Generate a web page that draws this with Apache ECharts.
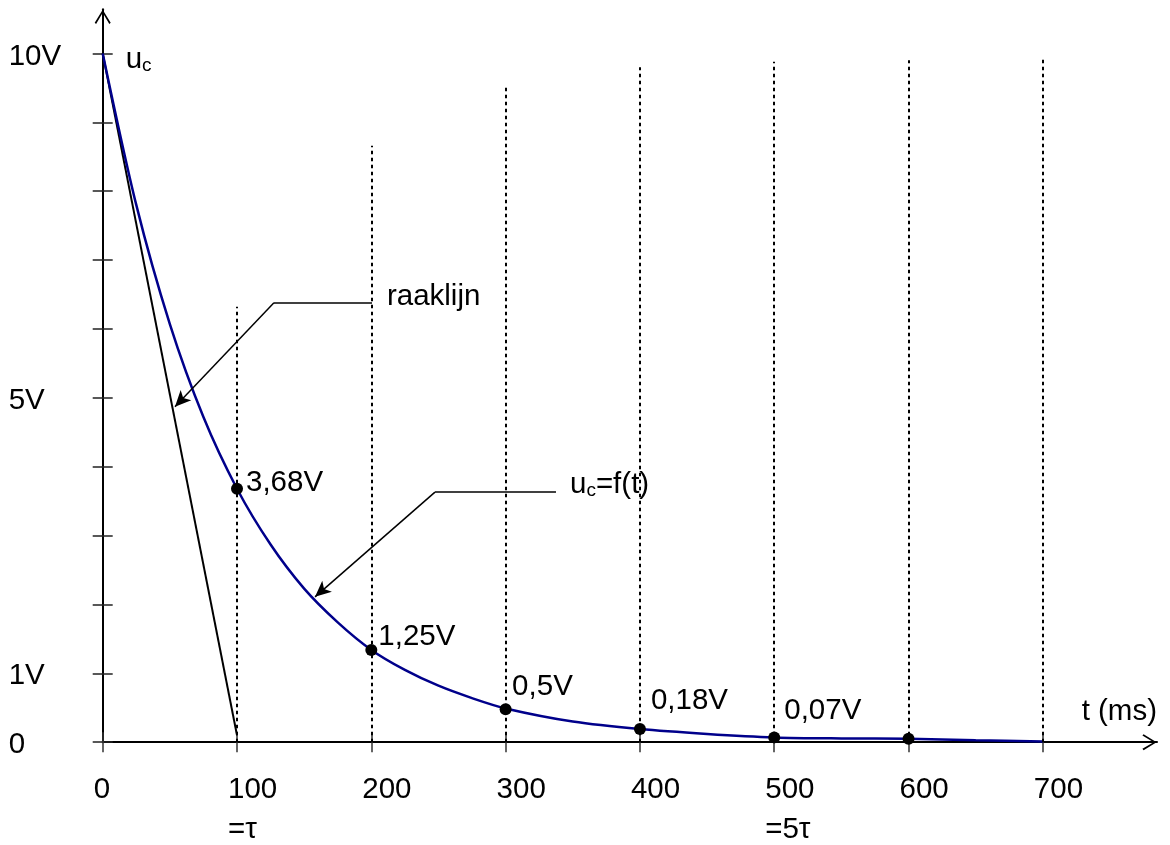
<!DOCTYPE html>
<html>
<head>
<meta charset="utf-8">
<script src="https://cdn.jsdelivr.net/npm/echarts@6/dist/echarts.min.js"></script>
<style>
  html, body { margin: 0; padding: 0; background: #fff; }
  #chart { width: 1170px; height: 845px; }
</style>
</head>
<body>
<div id="chart"></div>
<script>
  const curveT = [0, 25, 50, 75, 100, 125, 150, 175, 200, 225, 250, 275, 300, 350, 400, 450, 500, 550, 600, 650, 700]
  const curveV = [10, 7.8, 6.07, 4.72, 3.68, 2.87, 2.23, 1.74, 1.34, 1.05, 0.82, 0.64, 0.49, 0.3, 0.19, 0.12, 0.07, 0.055, 0.05, 0.03, 0.01]
  // raaklijn in t = 0
  const raakT = [0, 100]
  const raakV = [10, 0.1]
  // gemarkeerde punten
  const pointT = [100, 200, 300, 400, 500, 600]
  const pointV = [3.68, 1.34, 0.48, 0.19, 0.07, 0.05]
  const pointLabels = ['3,68V', '1,25V', '0,5V', '0,18V', '0,07V', '']
  // gestippelde hulplijnen
  const gridT = [100, 200, 300, 400, 500, 600, 700]
  const gridTop = [6.32, 8.66, 9.52, 9.8, 9.88, 9.9, 9.91]
  // assen
  const xTicks = [0, 100, 200, 300, 400, 500, 600, 700]
  const xSubLabels = ['', '=τ', '', '', '', '=5τ', '', '']
  const yTicks = [0, 1, 2, 3, 4, 5, 6, 7, 8, 9, 10]
  const yLabelValues = [0, 1, 5, 10]
  const yLabelTexts = ['0', '1V', '5V', '10V']
  // aanwijzers (knik en pijlpunt)
  const raakPointer = [[200.5, 6.38], [127.5, 6.38], [53.8, 4.87]]
  const curvePointer = [[337.5, 3.63], [247.4, 3.63], [158.1, 2.11]]
  const noteT = [17.5, 212, 348.3]
  const noteV = [9.9, 6.46, 3.73]
  const noteTexts = ['{u|u}{c|c}', '{u|raaklijn}', '{u|u}{c|c}{u|=f(t)}']

  const FONT = '"Liberation Sans", Arial, sans-serif'
  const FS = 29.5
  const labelOffsets = [[3, -6], [1, -13], [0.5, -22], [5, -28], [4, -27], [0, 0]]
  const arrowUp = 'path://M8,0 L16,13 L14.6,14.2 L8,3 L1.4,14.2 L0,13 Z'

  const pointerLines = function (path) {
    return [
      [{ coord: path[0], symbol: 'none' }, { coord: path[1], symbol: 'none' }],
      [{ coord: path[1], symbol: 'none' }, { coord: path[2], symbol: 'arrow', symbolSize: [11, 16] }]
    ]
  }

  const chart = echarts.init(document.getElementById('chart'))
  chart.setOption({
    animation: false,
    backgroundColor: '#fff',
    textStyle: { fontFamily: FONT },
    grid: {
      left: 102.7, right: 13, top: 9.3, bottom: 102.8,
      containLabel: false, outerBoundsMode: 'none'
    },
    xAxis: [{
      type: 'value', min: 0, max: 785,
      name: 't (ms)', nameLocation: 'end', nameGap: 0,
      nameTextStyle: { fontSize: FS, color: '#000', fontFamily: FONT, align: 'right', verticalAlign: 'bottom', padding: [0, 0, 15, 0] },
      axisLine: {
        lineStyle: { color: '#000', width: 2 },
        symbol: ['none', arrowUp], symbolSize: [16, 15], symbolOffset: [0, -7.5]
      },
      axisTick: { show: true, length: 10, customValues: xTicks, lineStyle: { color: '#333', width: 1.5 } },
      axisLabel: {
        customValues: xTicks,
        formatter: function (v) {
          const i = xTicks.indexOf(v)
          return xSubLabels[i] ? v + '\n' + xSubLabels[i] : String(v)
        },
        fontSize: FS, color: '#000', fontFamily: FONT, lineHeight: 40,
        align: 'left', margin: 28, padding: [0, 0, 0, -9]
      },
      splitLine: { show: false }
    }, {
      type: 'value', min: 0, max: 785, position: 'bottom',
      axisLine: { show: false },
      axisTick: { show: true, inside: true, length: 10, customValues: xTicks, lineStyle: { color: '#333', width: 1.5 } },
      axisLabel: { show: false },
      splitLine: { show: false }
    }],
    yAxis: [{
      type: 'value', min: 0, max: 10.64, position: 'left',
      axisLine: {
        show: true,
        lineStyle: { color: '#000', width: 2 },
        symbol: ['none', arrowUp], symbolSize: [16, 15], symbolOffset: [0, -7.5]
      },
      axisTick: { show: true, length: 10, customValues: yTicks, lineStyle: { color: '#222', width: 1.5 } },
      axisLabel: {
        customValues: yLabelValues,
        // lege eerste regel schuift de tekst een paar pixels omlaag
        formatter: function (v) { return '\n' + yLabelTexts[yLabelValues.indexOf(v)] },
        fontSize: FS, color: '#000', fontFamily: FONT, lineHeight: 6,
        align: 'left', verticalAlign: 'middle', margin: 94
      },
      splitLine: { show: false }
    }, {
      type: 'value', min: 0, max: 10.64, position: 'left', offset: 0,
      axisLine: { show: false },
      axisTick: { show: true, inside: true, length: 10, customValues: yTicks, lineStyle: { color: '#222', width: 1.5 } },
      axisLabel: { show: false },
      splitLine: { show: false }
    }],
    series: [{
      // gestippelde lijnen
      type: 'line',
      data: [],
      silent: true,
      markLine: {
        silent: true,
        symbol: 'none',
        label: { show: false },
        lineStyle: { color: '#000', width: 2, type: [3.5, 3.5] },
        data: gridT.map((t, i) => [{ coord: [t, 0] }, { coord: [t, gridTop[i]] }])
      }
    }, {
      // raaklijn
      name: 'raaklijn',
      type: 'line',
      data: raakT.map((t, i) => [t, raakV[i]]),
      showSymbol: false,
      lineStyle: { color: '#000', width: 2 },
      z: 3
    }, {
      name: 'u_c',
      type: 'line',
      data: curveT.map((t, i) => [t, curveV[i]]),
      showSymbol: false,
      smooth: 0.3,
      lineStyle: { color: '#00008b', width: 2.5 },
      z: 4
    }, {
      // punten met waarde
      type: 'scatter',
      data: pointT.map((t, i) => ({
        value: [t, pointV[i]],
        label: { offset: labelOffsets[i] }
      })),
      symbolSize: 12,
      itemStyle: { color: '#000', opacity: 1 },
      label: {
        show: true,
        position: 'right',
        distance: 0,
        align: 'left',
        verticalAlign: 'middle',
        fontSize: FS,
        color: '#000',
        opacity: 1,
        textBorderWidth: 0,
        fontFamily: FONT,
        formatter: function (p) { return pointLabels[p.dataIndex] }
      },
      z: 5
    }, {
      // aanwijzers
      type: 'line',
      data: [],
      silent: true,
      markLine: {
        silent: true,
        label: { show: false },
        lineStyle: { color: '#000', width: 1.5, type: 'solid' },
        data: pointerLines(raakPointer).concat(pointerLines(curvePointer))
      },
      z: 6
    }, {
      // teksten
      type: 'scatter',
      data: noteT.map((t, i) => [t, noteV[i]]),
      symbolSize: 1,
      itemStyle: { color: 'rgba(0,0,0,0)' },
      label: {
        show: true,
        position: [0, 0],
        align: 'left',
        verticalAlign: 'middle',
        color: '#000',
        opacity: 1,
        textBorderWidth: 0,
        formatter: function (p) { return noteTexts[p.dataIndex] },
        rich: {
          u: { fontSize: FS, lineHeight: 31, fontFamily: FONT, color: '#000', textBorderWidth: 0 },
          c: { fontSize: 19, verticalAlign: 'bottom', fontFamily: FONT, color: '#000', textBorderWidth: 0 }
        }
      },
      z: 6
    }]
  })
</script>
</body>
</html>
